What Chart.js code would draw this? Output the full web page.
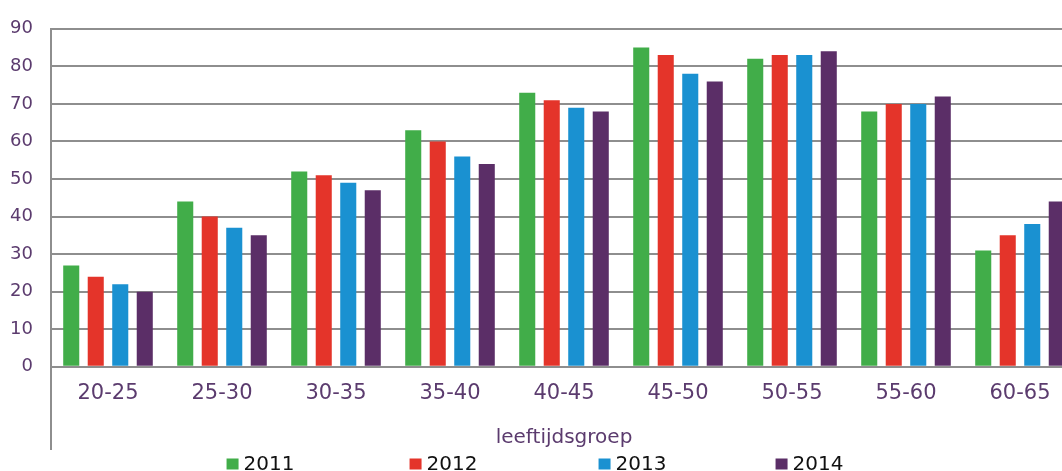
<!DOCTYPE html>
<html>
<head>
<meta charset="utf-8">
<script src="https://cdn.jsdelivr.net/npm/chart.js@4.4.1/dist/chart.umd.min.js"></script>
<style>
  html, body { margin: 0; padding: 0; background: #ffffff; overflow: hidden; width: 1062px; height: 471px; }
  #wrap { position: relative; width: 1080px; height: 482px; }
  canvas { display: block; }
</style>
</head>
<body>
<div id="wrap"><canvas id="c" width="1080" height="482"></canvas></div>
<script>
const categories = ['20-25', '25-30', '30-35', '35-40', '40-45', '45-50', '50-55', '55-60', '60-65'];
const seriesNames = ['2011', '2012', '2013', '2014'];
const values2011 = [27, 44, 52, 63, 73, 85, 82, 68, 31];
const values2012 = [24, 40, 51, 60, 71, 83, 83, 70, 35];
const values2013 = [22, 37, 49, 56, 69, 78, 83, 70, 38];
const values2014 = [20, 35, 47, 54, 68, 76, 84, 72, 44];
const yTicks = [0, 10, 20, 30, 40, 50, 60, 70, 80, 90];
const axisTitle = 'leeftijdsgroep';

const colors = ['#41ad49', '#e4342a', '#1a91d1', '#5b2e67'];
const labelColor = '#5b3b6e';
const gridColor = '#8e8e8e';
const FONT = '"DejaVu Sans", Verdana, sans-serif';

const allValues = [values2011, values2012, values2013, values2014];

const axisExtension = {
  id: 'axisExtension',
  afterDraw(chart) {
    const ctx = chart.ctx;
    const ca = chart.chartArea;
    const xs = chart.scales.x;
    ctx.save();
    ctx.strokeStyle = gridColor;
    ctx.lineWidth = 2;
    ctx.beginPath();
    ctx.moveTo(ca.left, ca.bottom);
    ctx.lineTo(ca.left, xs.bottom);
    ctx.stroke();
    ctx.restore();
  }
};

const legendOffsets = [0, 183, 372, 549];

const customLegend = {
  id: 'customLegend',
  afterDraw(chart) {
    const ctx = chart.ctx;
    const ds = chart.data.datasets;
    const boxW = 12, boxH = 11, gap = 5;
    ctx.save();
    ctx.font = '20px ' + FONT;
    const lastW = boxW + gap + ctx.measureText(ds[ds.length - 1].label).width;
    const total = legendOffsets[ds.length - 1] + lastW;
    const start = chart.width / 2 - 5 - total / 2;
    const baseY = chart.scales.x.bottom + 20;
    ds.forEach((d, i) => {
      const x = start + legendOffsets[i];
      ctx.fillStyle = d.backgroundColor;
      ctx.fillRect(x, baseY - boxH - 0.5, boxW, boxH);
      ctx.fillStyle = '#111111';
      ctx.textBaseline = 'alphabetic';
      ctx.textAlign = 'left';
      ctx.fillText(d.label, x + boxW + gap, baseY);
    });
    ctx.restore();
  }
};

new Chart(document.getElementById('c'), {
  type: 'bar',
  data: {
    labels: categories,
    datasets: seriesNames.map((name, i) => ({
      label: name,
      data: allValues[i],
      backgroundColor: colors[i],
      borderWidth: 0,
      categoryPercentage: 0.86,
      barPercentage: 0.655
    }))
  },
  options: {
    responsive: false,
    animation: false,
    devicePixelRatio: 1,
    layout: { padding: { top: 18, right: 3, bottom: 32, left: 0 } },
    plugins: {
      legend: { display: false },
      tooltip: { enabled: false },
      title: { display: false }
    },
    scales: {
      x: {
        grid: { display: false, drawTicks: false },
        border: { display: true, color: gridColor, width: 2 },
        ticks: {
          color: labelColor,
          font: { family: FONT, size: 21 },
          padding: 14,
          maxRotation: 0,
          autoSkip: false
        },
        title: {
          display: true,
          text: axisTitle,
          color: labelColor,
          font: { family: FONT, size: 20 },
          padding: { top: 6, bottom: 0 }
        }
      },
      y: {
        min: 0,
        max: 90,
        afterBuildTicks(scale) {
          scale.ticks = yTicks.map(v => ({ value: v }));
        },
        afterFit(scale) { scale.width = 51; },
        grid: { color: gridColor, lineWidth: 2, drawTicks: false },
        border: { display: true, color: gridColor, width: 2 },
        ticks: {
          color: labelColor,
          font: { family: FONT, size: 18 },
          padding: 18
        }
      }
    }
  },
  plugins: [axisExtension, customLegend]
});
</script>
</body>
</html>
